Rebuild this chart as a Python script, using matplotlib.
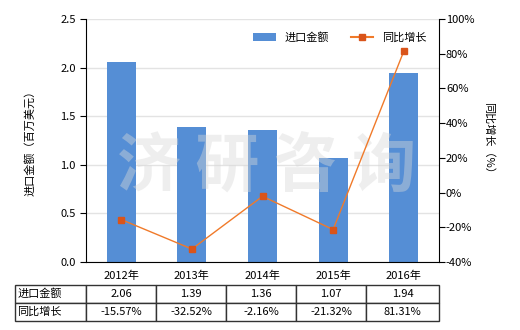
import matplotlib
matplotlib.use('Agg')
import matplotlib.pyplot as plt
from matplotlib.patches import Patch
from matplotlib.lines import Line2D

plt.rcParams['font.family'] = ['Noto Sans CJK SC', 'DejaVu Sans']
plt.rcParams['font.size'] = 8

years = ['2012年', '2013年', '2014年', '2015年', '2016年']
imports = [2.06, 1.39, 1.36, 1.07, 1.94]
growth = [-15.57, -32.52, -2.16, -21.32, 81.31]
row_labels = ['进口金额', '同比增长']

bar_color = '#558ED5'
line_color = '#F07A2A'
marker_color = '#D9541A'

fig = plt.figure(figsize=(5.2, 3.3), dpi=100)
ax = fig.add_axes([86 / 520, 1 - 262 / 330, 353 / 520, 243 / 330])

x = list(range(len(years)))
ax.bar(x, imports, width=0.41, color=bar_color, zorder=2)
ax.set_xlim(-0.5, 4.5)
ax.set_ylim(0, 2.5)
ax.set_yticks([0, 0.5, 1.0, 1.5, 2.0, 2.5])
ax.set_yticklabels(['0.0', '0.5', '1.0', '1.5', '2.0', '2.5'])
ax.set_xticks(x)
ax.set_xticklabels(years)
ax.tick_params(axis='x', length=0, pad=6)
ax.tick_params(axis='y', length=4, direction='out')
ax.grid(axis='y', color='#E3E3E3', linewidth=1, zorder=0)
ax.set_axisbelow(True)
for s in ['top', 'right']:
    ax.spines[s].set_visible(False)
ax.set_ylabel('进口金额（百万美元）', labelpad=18)

ax2 = ax.twinx()
ax2.plot(x, growth, color=line_color, linewidth=1, marker='s', markersize=5,
         markerfacecolor=marker_color, markeredgecolor=marker_color, zorder=3)
ax2.set_ylim(-40, 100)
ax2.set_yticks(range(-40, 101, 20))
ax2.set_yticklabels([f'{v}%' for v in range(-40, 101, 20)])
ax2.tick_params(axis='y', length=4, direction='out', pad=1)
for s in ['top', 'left', 'bottom']:
    ax2.spines[s].set_visible(False)
ax2.set_ylabel('同比增长（%）', rotation=270, labelpad=14)

# watermark
ax.text(0.51, 0.39, '济 研 咨 询', transform=ax.transAxes, fontsize=46,
        fontweight='heavy', color='#d8d8d8', alpha=0.42, ha='center', va='center',
        zorder=5)

handles = [Patch(facecolor=bar_color, label='进口金额'),
           Line2D([0], [0], color=line_color, marker='s', markersize=4,
                  markerfacecolor=marker_color, markeredgecolor=marker_color,
                  label='同比增长')]
ax2.legend(handles=handles, loc='center', bbox_to_anchor=(0.72, 0.925), ncol=2,
           frameon=False, handlelength=2.0, columnspacing=2.0, fontsize=8)

cells = [[f'{v:.2f}' for v in imports], [f'{v:.2f}%' for v in growth]]
cells = [[lab] + row for lab, row in zip(row_labels, cells)]
tbl = ax.table(cellText=cells, cellLoc='center',
               colWidths=[71, 70, 70, 70, 70, 73],
               bbox=[-71 / 353, -59 / 243, 424 / 353, 36 / 243])
tbl.auto_set_font_size(False)
tbl.set_fontsize(8)
for (r, c), cell in tbl.get_celld().items():
    cell.set_edgecolor('#333333')
    cell.set_linewidth(1)
    if c == 0:
        cell.set_text_props(ha='left')
        cell.PAD = 0.03

fig.savefig('out.png', dpi=100)
